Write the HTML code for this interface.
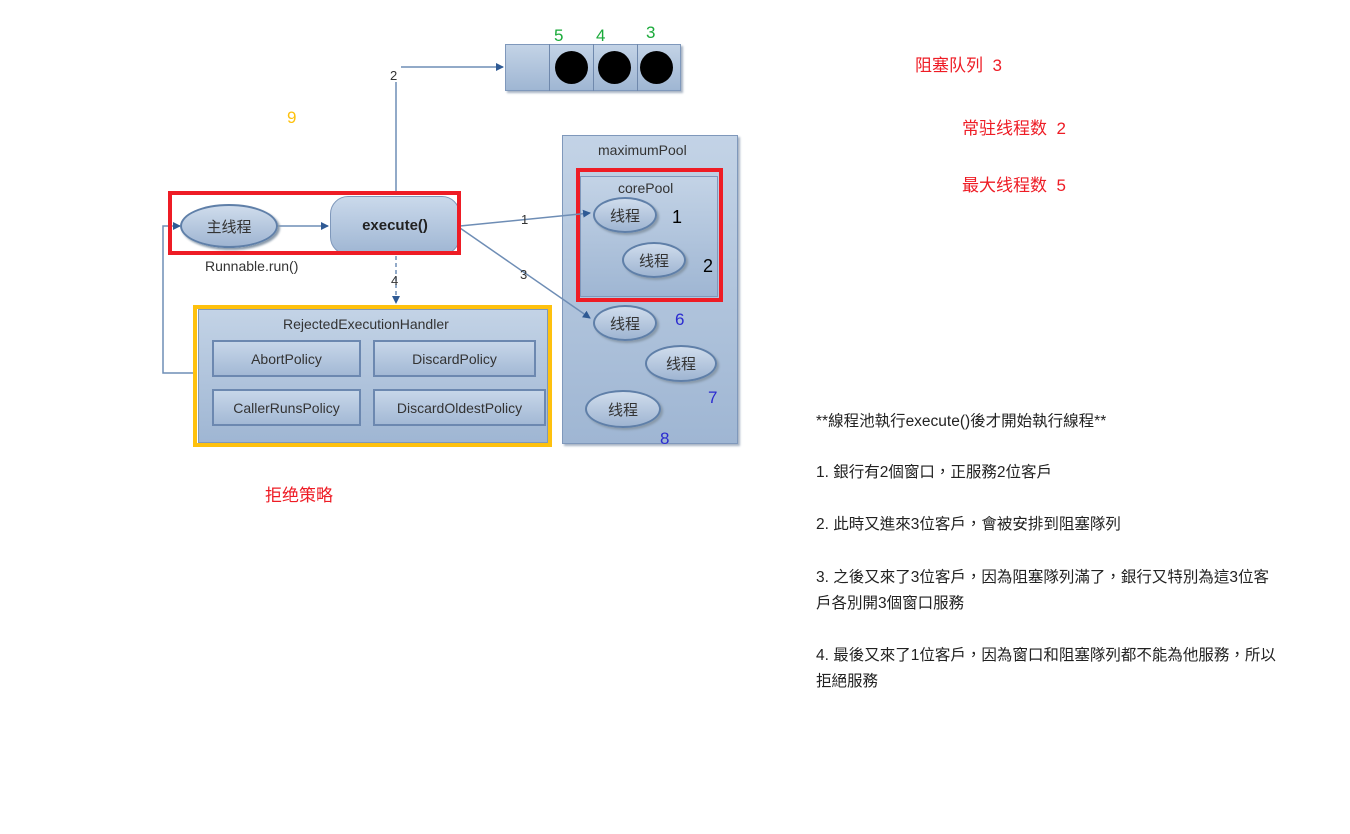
<!DOCTYPE html>
<html><head><meta charset="utf-8"><style>
body{margin:0;width:1350px;height:834px;background:#fff;position:relative;overflow:hidden;font-family:"Liberation Sans","Noto Sans CJK SC",sans-serif}
.a{position:absolute;white-space:nowrap}
.box{position:absolute;background:linear-gradient(#c3d3e6,#9fb6d3);border:1px solid #7f98bb;box-sizing:border-box;box-shadow:2px 2px 2px #a8b4c4}
.ell{position:absolute;border-radius:50%;background:linear-gradient(#cfdcec,#9fb5d2);border:2px solid #5f7fa8;box-sizing:border-box;display:flex;align-items:center;justify-content:center;font-size:15px;color:#333;box-shadow:2px 2px 2px #8899aa}
.btn{position:absolute;background:linear-gradient(#c7d6e9,#a3b9d5);border:2px solid #6c88b0;box-sizing:border-box;display:flex;align-items:center;justify-content:center;font-size:14px;color:#333}
.r{position:absolute;border:4px solid #ee1c25;box-sizing:border-box}
.t{font-family:"Liberation Sans","Noto Sans CJK TC",sans-serif;font-size:15.5px;color:#222}
</style></head><body>
<div class="box" style="left:505px;top:44px;width:176px;height:47px"></div>
<div class="a" style="left:549px;top:44px;width:1px;height:47px;background:#6f88ac"></div>
<div class="a" style="left:593px;top:44px;width:1px;height:47px;background:#6f88ac"></div>
<div class="a" style="left:637px;top:44px;width:1px;height:47px;background:#6f88ac"></div>
<div class="a" style="left:555px;top:51px;width:33px;height:33px;border-radius:50%;background:#000"></div>
<div class="a" style="left:598px;top:51px;width:33px;height:33px;border-radius:50%;background:#000"></div>
<div class="a" style="left:640px;top:51px;width:33px;height:33px;border-radius:50%;background:#000"></div>
<div class="a" style="left:554px;top:26px;color:#1aaa3a;font-size:17px">5</div>
<div class="a" style="left:596px;top:26px;color:#1aaa3a;font-size:17px">4</div>
<div class="a" style="left:646px;top:23px;color:#1aaa3a;font-size:17px">3</div>

<div class="box" style="left:562px;top:135px;width:176px;height:309px"></div>
<div class="a" style="left:598px;top:142px;font-size:14px;color:#333">maximumPool</div>
<div class="box" style="left:580px;top:176px;width:138px;height:121px;box-shadow:none"></div>
<div class="a" style="left:618px;top:180px;font-size:14px;color:#333">corePool</div>
<div class="r" style="left:576px;top:168px;width:147px;height:134px"></div>
<div class="ell" style="left:593px;top:197px;width:64px;height:36px">线程</div>
<div class="ell" style="left:622px;top:242px;width:64px;height:36px">线程</div>
<div class="ell" style="left:593px;top:305px;width:64px;height:36px">线程</div>
<div class="ell" style="left:645px;top:345px;width:72px;height:37px">线程</div>
<div class="ell" style="left:585px;top:390px;width:76px;height:38px">线程</div>
<div class="a" style="left:672px;top:207px;font-size:18px;color:#000">1</div>
<div class="a" style="left:703px;top:256px;font-size:18px;color:#000">2</div>
<div class="a" style="left:675px;top:310px;font-size:17px;color:#2b2bd0">6</div>
<div class="a" style="left:708px;top:388px;font-size:17px;color:#2b2bd0">7</div>
<div class="a" style="left:660px;top:429px;font-size:17px;color:#2b2bd0">8</div>

<svg class="a" style="left:0;top:0" width="800" height="500">
<defs><marker id="m" markerWidth="8" markerHeight="8" refX="7" refY="4" orient="auto" markerUnits="userSpaceOnUse"><path d="M0,0L8,4L0,8z" fill="#2f5a94"/></marker></defs>
<g stroke="#6e8db5" stroke-width="1.5" fill="none">
<path d="M396,195V67H503" marker-end="url(#m)"/>
<path d="M396,256V303" stroke-dasharray="4,3" marker-end="url(#m)"/>
<path d="M460,226L590,213" marker-end="url(#m)"/>
<path d="M460,228L590,318" marker-end="url(#m)"/>
<path d="M194,373H163V226H180" marker-end="url(#m)"/>
<path d="M278,226H328" marker-end="url(#m)"/>
</g>
<g font-size="13" fill="#333" font-family="Liberation Sans">
<rect x="389" y="66" width="12" height="16" fill="#fff"/><text x="390" y="80">2</text>
<text x="391" y="285">4</text>
<text x="521" y="224">1</text>
<text x="520" y="279">3</text>
</g>
</svg>

<div class="ell" style="left:180px;top:204px;width:98px;height:44px">主线程</div>
<div class="a" style="left:330px;top:196px;width:130px;height:59px;border-radius:18px;background:linear-gradient(#cad9eb,#9fb6d3);border:1px solid #7f98bb;box-sizing:border-box;display:flex;align-items:center;justify-content:center;font-size:15px;color:#222;font-weight:bold">execute()</div>
<div class="r" style="left:168px;top:191px;width:293px;height:64px"></div>
<div class="a" style="left:205px;top:258px;font-size:14px;color:#333">Runnable.run()</div>

<div class="box" style="left:198px;top:309px;width:350px;height:134px"></div>
<div class="a" style="left:283px;top:316px;font-size:14px;color:#333">RejectedExecutionHandler</div>
<div class="btn" style="left:212px;top:340px;width:149px;height:37px">AbortPolicy</div>
<div class="btn" style="left:373px;top:340px;width:163px;height:37px">DiscardPolicy</div>
<div class="btn" style="left:212px;top:389px;width:149px;height:37px">CallerRunsPolicy</div>
<div class="btn" style="left:373px;top:389px;width:173px;height:37px">DiscardOldestPolicy</div>
<div class="a" style="left:193px;top:305px;width:359px;height:142px;border:4px solid #fec10e;box-sizing:border-box"></div>

<div class="a" style="left:287px;top:108px;font-size:17px;color:#fec10e">9</div>
<div class="a" style="left:265px;top:481px;font-size:17px;color:#ee1c25">拒绝策略</div>

<div class="a" style="left:915px;top:51px;font-size:17px;color:#ee1c25">阻塞队列&nbsp; 3</div>
<div class="a" style="left:962px;top:114px;font-size:17px;color:#ee1c25">常驻线程数&nbsp; 2</div>
<div class="a" style="left:962px;top:171px;font-size:17px;color:#ee1c25">最大线程数&nbsp; 5</div>

<div class="a t" style="left:816px;top:409px">**線程池執行execute()後才開始執行線程**</div>
<div class="a t" style="left:816px;top:460px">1. 銀行有2個窗口，正服務2位客戶</div>
<div class="a t" style="left:816px;top:512px">2. 此時又進來3位客戶，會被安排到阻塞隊列</div>
<div class="a t" style="left:816px;top:565px">3. 之後又來了3位客戶，因為阻塞隊列滿了，銀行又特別為這3位客</div>
<div class="a t" style="left:816px;top:591px">戶各別開3個窗口服務</div>
<div class="a t" style="left:816px;top:643px">4. 最後又來了1位客戶，因為窗口和阻塞隊列都不能為他服務，所以</div>
<div class="a t" style="left:816px;top:669px">拒絕服務</div>
</body></html>
